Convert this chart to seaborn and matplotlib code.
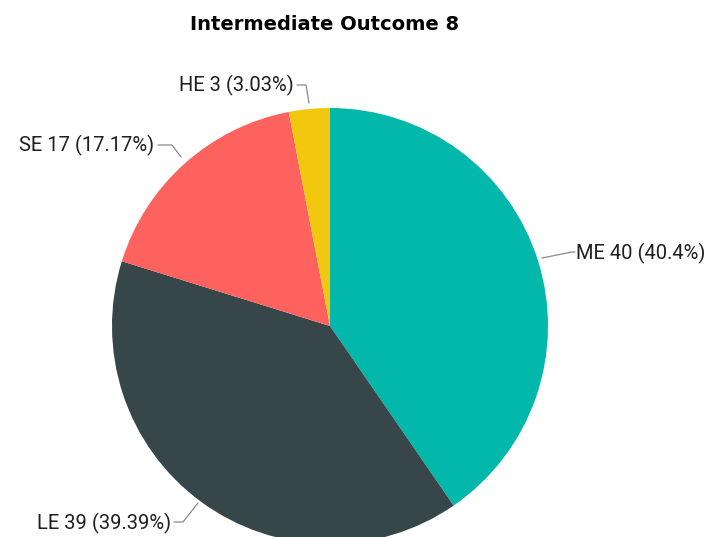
import matplotlib
matplotlib.use("Agg")
import matplotlib.pyplot as plt
import seaborn as sns

# Outcome counts per level
levels = ["ME", "LE", "SE", "HE"]
counts = [40, 39, 17, 3]
colors = ["#01B8AA", "#374649", "#FD625E", "#F2C80F"]
title = "Intermediate Outcome 8"

sns.set_theme(style="white")
plt.rcParams["font.family"] = ["Roboto", "DejaVu Sans"]

W, H = 710, 537
fig = plt.figure(figsize=(W / 100, H / 100), dpi=100)
ax = fig.add_axes([0, 0, 1, 1])

cx, cy, r = 330, H - 326, 218
ax.pie(counts, colors=colors, startangle=90, counterclock=False,
       center=(cx, cy), radius=r, frame=True,
       wedgeprops=dict(linewidth=0))
ax.set_xlim(0, W)
ax.set_ylim(0, H)
ax.set_aspect("equal")
ax.axis("off")

total = sum(counts)
def pct(v):
    p = round(100 * v / total, 2)
    return f"{p:.2f}".rstrip("0").rstrip(".")

labels = {lv: f"{lv} {c} ({pct(c)}%)" for lv, c in zip(levels, counts)}

line_kw = dict(color="#8a8a8a", lw=0.9)
txt_kw = dict(fontsize=14.5, color="#1f1f1f", va="center")

# leader lines and labels (pixel coordinates, y measured from top)
def py(y):
    return H - y

# ME
ax.plot([542, 572, 575], [py(258), py(252), py(252)], **line_kw)
ax.text(576, py(253), labels["ME"], ha="left", **txt_kw)
# LE
ax.plot([174, 183, 198], [py(522), py(522), py(503)], **line_kw)
ax.text(171, py(523), labels["LE"], ha="right", **txt_kw)
# SE
ax.plot([158, 172, 181], [py(145), py(145), py(157)], **line_kw)
ax.text(154, py(145), labels["SE"], ha="right", **txt_kw)
# HE
ax.plot([297, 306, 309], [py(85), py(85), py(103)], **line_kw)
ax.text(294, py(85), labels["HE"], ha="right", **txt_kw)

fig.text(325 / W, 1 - 25 / H, title, ha="center", va="center",
         fontsize=14, fontweight="heavy", family="DejaVu Sans", color="#000000")

fig.savefig("out.png", dpi=100, facecolor="white")
